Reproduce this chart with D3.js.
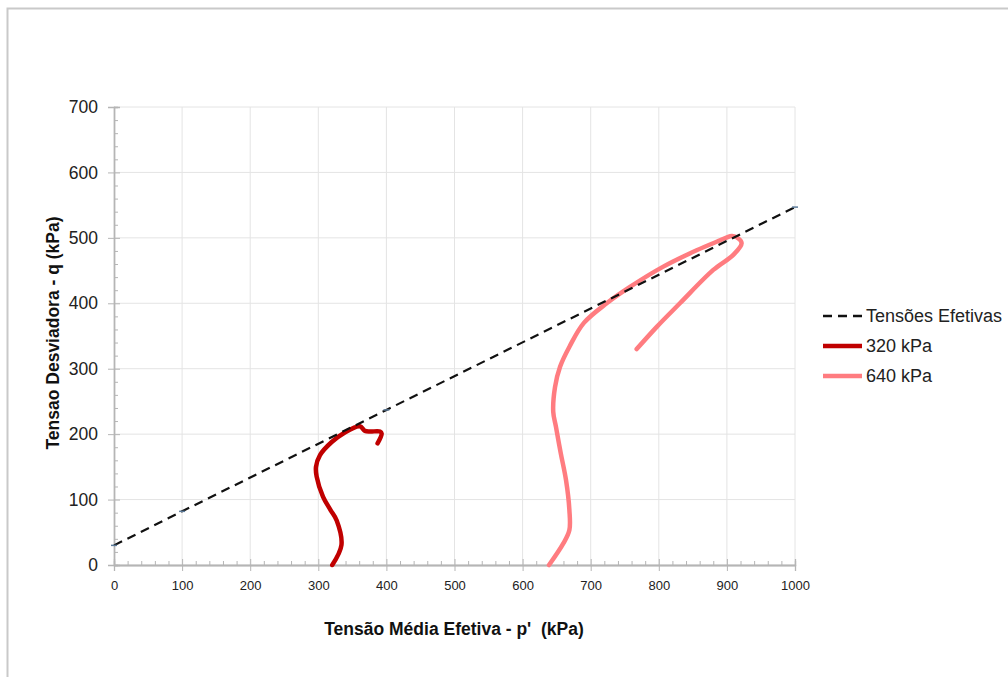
<!DOCTYPE html>
<html>
<head>
<meta charset="utf-8">
<script src="https://cdn.jsdelivr.net/npm/d3@7"></script>
<style>
  html, body { margin: 0; padding: 0; background: #fff; }
  svg { display: block; font-family: "Liberation Sans", Arial, sans-serif; }
  text { white-space: pre; }
</style>
</head>
<body>
<svg id="chart" width="1008" height="677"></svg>
<script>
// ---- data ----
const xTicks = [0, 100, 200, 300, 400, 500, 600, 700, 800, 900, 1000];
const yTicks = [0, 100, 200, 300, 400, 500, 600, 700];

const envelopeP = [0, 100, 400, 1000];
const envelopeQ = [30, 82, 237, 547];

const s320P = [320.5, 334, 327, 318, 307, 297.6, 296.6, 302.5, 319.7, 336.7, 361, 368.5, 376, 390.6, 393, 387];
const s320Q = [0, 30.6, 68, 84, 104, 135, 150, 168, 188, 201, 212, 205, 204, 204, 201, 186];

const s640P = [638.8, 659.8, 668.7, 668.7, 663.7, 656, 649, 645, 647.6, 655, 669, 690, 723.5, 757.7, 806.6, 855.6, 885, 907, 914, 921.6, 909.4, 880, 831, 797, 767.5];
const s640Q = [0, 33, 53.5, 84, 130, 171, 211, 234, 272, 303, 334, 370, 400, 425, 456, 481, 494, 503, 501, 492, 474, 451, 400, 364, 330];

const legendLabels = ["Tensões Efetivas", "320 kPa", "640 kPa"];
const xTitle = "Tensão Média Efetiva - p'  (kPa)";
const yTitle = "Tensao Desviadora - q (kPa)";

// ---- layout ----
const svg = d3.select("#chart");
const pL = 114, pR = 795, pT = 107, pB = 565;

const x = d3.scaleLinear().domain([0, 1000]).range([pL, pR]);
const y = d3.scaleLinear().domain([0, 700]).range([pB, pT]);

// frame
svg.append("rect")
  .attr("x", 7.5).attr("y", 8.5)
  .attr("width", 1100).attr("height", 800)
  .attr("fill", "none").attr("stroke", "#c9c9c9").attr("stroke-width", 2);

// gridlines
const grid = svg.append("g");
grid.selectAll("line.v").data(xTicks.slice(1)).join("line")
  .attr("x1", d => x(d)).attr("x2", d => x(d))
  .attr("y1", pT).attr("y2", pB)
  .attr("stroke", "#e4e4e4").attr("stroke-width", 1);
grid.selectAll("line.h").data(yTicks.slice(1)).join("line")
  .attr("x1", pL).attr("x2", pR)
  .attr("y1", d => y(d)).attr("y2", d => y(d))
  .attr("stroke", "#e4e4e4").attr("stroke-width", 1);

const axisColor = "#b5b5b5";
const fmt = d3.format("d");

// x axis
const xAxisG = svg.append("g").attr("transform", `translate(0,${pB})`);
xAxisG.call(d3.axisBottom(x).tickValues(xTicks).tickSize(6).tickPadding(10).tickFormat(fmt));
const xMinor = svg.append("g").attr("transform", `translate(0,${pB})`);
xMinor.call(d3.axisTop(x).tickValues(d3.range(0, 1001, 20).filter(v => v % 100 !== 0)).tickSize(4).tickFormat(""));
const xMajUp = svg.append("g").attr("transform", `translate(0,${pB})`);
xMajUp.call(d3.axisTop(x).tickValues(xTicks).tickSize(6).tickFormat(""));

// y axis
const yAxisG = svg.append("g").attr("transform", `translate(${pL},0)`);
yAxisG.call(d3.axisLeft(y).tickValues(yTicks).tickSize(6).tickPadding(10).tickFormat(fmt));
const yMinor = svg.append("g").attr("transform", `translate(${pL},0)`);
yMinor.call(d3.axisRight(y).tickValues(d3.range(0, 701, 20).filter(v => v % 100 !== 0)).tickSize(4).tickFormat(""));
const yMajR = svg.append("g").attr("transform", `translate(${pL},0)`);
yMajR.call(d3.axisRight(y).tickValues(yTicks).tickSize(6).tickFormat(""));

[xAxisG, xMinor, xMajUp, yAxisG, yMinor, yMajR].forEach(g => {
  g.selectAll(".domain").attr("stroke", axisColor).attr("stroke-width", 1.3);
  g.selectAll(".tick line").attr("stroke", axisColor).attr("stroke-width", 1);
});
xAxisG.selectAll(".tick text").attr("font-size", 13).attr("fill", "#222")
  .attr("font-family", "Liberation Sans, Arial, sans-serif");
yAxisG.selectAll(".tick text").attr("font-size", 17.5).attr("fill", "#222")
  .attr("font-family", "Liberation Sans, Arial, sans-serif");

// axis titles
svg.append("text")
  .attr("x", 454).attr("y", 635)
  .attr("text-anchor", "middle")
  .attr("font-size", 17.5).attr("font-weight", "bold").attr("fill", "#111")
  .text(xTitle);
svg.append("text")
  .attr("transform", `translate(59,${333}) rotate(-90)`)
  .attr("text-anchor", "middle")
  .attr("font-size", 17.5).attr("font-weight", "bold").attr("fill", "#111")
  .text(yTitle);

// lines
const lineGen = d3.line().x(d => x(d[0])).y(d => y(d[1]));
const smoothGen = d3.line().x(d => x(d[0])).y(d => y(d[1])).curve(d3.curveCatmullRom.alpha(0.5));

const envData = envelopeP.map((p, i) => [p, envelopeQ[i]]);
const d320 = s320P.map((p, i) => [p, s320Q[i]]);
const d640 = s640P.map((p, i) => [p, s640Q[i]]);

svg.append("path").datum(d640).attr("d", smoothGen)
  .attr("fill", "none").attr("stroke", "#ff7c80").attr("stroke-width", 4.5)
  .attr("stroke-linejoin", "round").attr("stroke-linecap", "round");
svg.append("path").datum(d320).attr("d", smoothGen)
  .attr("fill", "none").attr("stroke", "#c00000").attr("stroke-width", 4.5)
  .attr("stroke-linejoin", "round").attr("stroke-linecap", "round");
svg.append("path").datum(envData).attr("d", lineGen)
  .attr("fill", "none").attr("stroke", "#111").attr("stroke-width", 2.2)
  .attr("stroke-dasharray", "9,6");
svg.selectAll("line.mk").data(envData).join("line")
  .attr("x1", d => x(d[0]) - 3).attr("x2", d => x(d[0]) + 3)
  .attr("y1", d => y(d[1])).attr("y2", d => y(d[1]))
  .attr("stroke", "#5b7a99").attr("stroke-width", 1.5);

// legend
const legend = svg.append("g");
const legItems = [
  { label: legendLabels[0], color: "#111", width: 2.5, dash: "9,6" },
  { label: legendLabels[1], color: "#c00000", width: 4.5, dash: null },
  { label: legendLabels[2], color: "#ff7c80", width: 4.5, dash: null }
];
const legY = [316, 346, 376];
legItems.forEach((it, i) => {
  legend.append("line")
    .attr("x1", 823).attr("x2", 862)
    .attr("y1", legY[i]).attr("y2", legY[i])
    .attr("stroke", it.color).attr("stroke-width", it.width)
    .attr("stroke-dasharray", it.dash);
  legend.append("text")
    .attr("x", 866).attr("y", legY[i] + 6)
    .attr("font-size", 18).attr("fill", "#222")
    .text(it.label);
});
</script>
</body>
</html>
